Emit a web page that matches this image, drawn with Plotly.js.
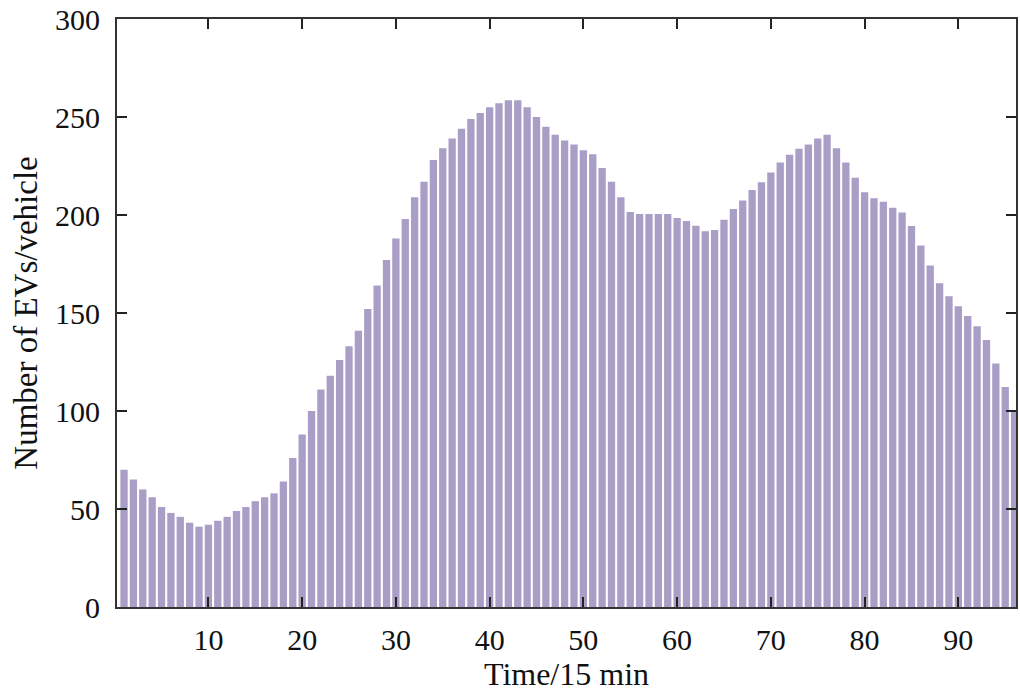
<!DOCTYPE html>
<html>
<head>
<meta charset="utf-8">
<script src="https://cdn.plot.ly/plotly-3.0.1.min.js"></script>
<style>
  html, body { margin: 0; padding: 0; background: white; }
  #chart { width: 1020px; height: 692px; }
</style>
</head>
<body>
<div id="chart"></div>
<script>
// time slots (15 min each), 1..96
const slots = Array.from({ length: 96 }, (_, i) => i + 1);

// number of EVs per slot
const evCount = [
  70, 65, 60, 56, 51, 48, 46, 43, 41, 42,
  44, 46, 49, 51, 54, 56, 58, 64, 76, 88,
  100, 111, 118, 126, 133, 141, 152, 164, 177, 188,
  198, 209, 217, 228, 234, 239, 244, 249, 252, 255,
  257, 258.5, 258.5, 255, 250, 245, 241, 238, 236, 233,
  231, 224, 217, 209, 201.5, 200.5, 200.5, 200.5, 200.5, 198.5,
  197, 194.5, 191.7, 192.4, 197.6, 203, 207.4, 212.8, 216.7, 221.7,
  226.8, 230.8, 233.8, 236, 239, 241, 234, 226.8, 219, 211.6,
  208.6, 206.7, 203.7, 201.3, 194.4, 184.5, 174.2, 165.2, 158.6, 153.5,
  148.5, 143.3, 136.2, 124.2, 112.3, 100
];

const xTicks = [10, 20, 30, 40, 50, 60, 70, 80, 90];
const yTicks = [0, 50, 100, 150, 200, 250, 300];

const serif = '"Liberation Serif", "DejaVu Serif", serif';

const trace = {
  type: 'bar',
  x: slots,
  y: evCount,
  marker: { color: '#a99fc6', line: { width: 0 } },
  hoverinfo: 'x+y',
  showlegend: false
};

const layout = {
  width: 1020,
  height: 692,
  margin: { l: 117, r: 4, t: 19, b: 85 },
  paper_bgcolor: 'white',
  plot_bgcolor: 'white',
  bargap: 0.22,
  font: { family: serif, size: 30, color: '#111' },
  xaxis: {
    range: [0.25, 96.15],
    tickmode: 'array',
    tickvals: xTicks,
    ticks: 'inside',
    ticklen: 10,
    tickwidth: 2,
    tickcolor: '#222',
    showgrid: false,
    zeroline: false,
    showline: true,
    linecolor: '#333',
    linewidth: 2,
    mirror: 'ticks',
    ticklabelstandoff: 5,
    ticklabeloverflow: 'allow',
    tickfont: { family: serif, size: 30, color: '#111' },
    title: { text: 'Time/15 min', font: { family: serif, size: 32, color: '#111' }, standoff: 10 }
  },
  yaxis: {
    range: [0, 300],
    tickmode: 'array',
    tickvals: yTicks,
    ticks: 'inside',
    ticklen: 10,
    tickwidth: 2,
    tickcolor: '#222',
    showgrid: false,
    zeroline: false,
    showline: true,
    linecolor: '#333',
    linewidth: 2,
    mirror: 'ticks',
    ticklabelstandoff: 9,
    ticklabeloverflow: 'allow',
    tickfont: { family: serif, size: 30, color: '#111' },
    title: { text: 'Number of EVs/vehicle', font: { family: serif, size: 33, color: '#111' }, standoff: 7 }
  }
};

Plotly.newPlot('chart', [trace], layout, { displayModeBar: false, staticPlot: true });
</script>
</body>
</html>
